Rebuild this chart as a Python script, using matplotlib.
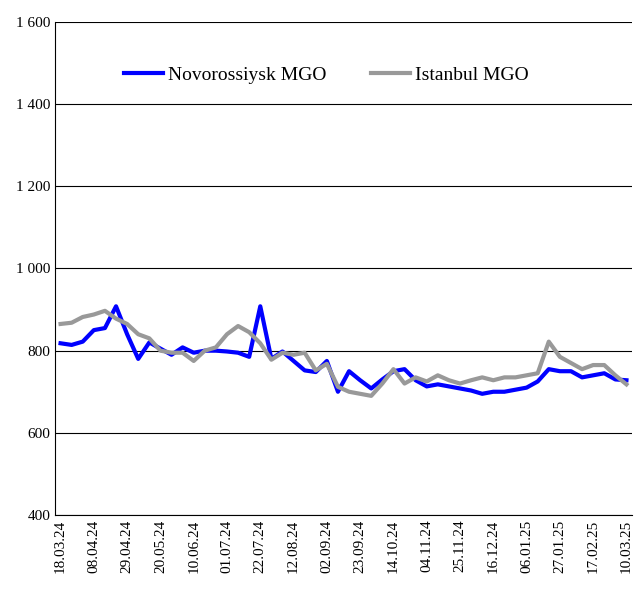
import numpy as np
import pandas as pd
import matplotlib
matplotlib.use('Agg')
import matplotlib.pyplot as plt
from matplotlib.ticker import FuncFormatter

plt.rcParams['font.family'] = ['Liberation Serif', 'DejaVu Serif']

dates = pd.date_range('2024-03-18', periods=52, freq='7D')
novo = [818,814,822,850,855,908,840,780,820,805,790,808,795,800,800,798,795,785,908,780,
        798,775,752,748,775,700,750,728,708,730,750,755,728,713,718,713,708,703,695,700,
        700,705,710,725,755,750,750,735,740,745,730,728]
ist = [865,868,882,888,897,878,865,840,830,800,795,795,775,800,808,840,860,845,818,778,
       795,790,795,752,768,712,700,695,690,720,755,720,735,725,740,728,720,728,735,728,
       735,735,740,745,822,785,770,755,765,765,740,718]

fig = plt.figure(figsize=(6.44,5.96),dpi=100)
ax = fig.add_axes([55/644,1-515/596,577/644,493/596])
x = np.arange(len(dates))
ax.plot(x,novo,color='#0000FF',lw=3,label='Novorossiysk MGO')
ax.plot(x,ist,color='#999999',lw=3,label='Istanbul MGO')
ax.set_ylim(400,1600)
ax.set_yticks(np.arange(400,1601,200))
ax.yaxis.set_major_formatter(FuncFormatter(lambda v,p: '{:,.0f}'.format(v).replace(',',' ')))
ax.grid(axis='y',color='k',lw=0.8)
ax.set_xlim(-0.5,len(x)-0.5)
ax.set_xticks(x[::3])
ax.set_xticklabels([d.strftime('%d.%m.%y') for d in dates[::3]],rotation=90,fontsize=11)
ax.tick_params(axis='y',labelsize=11,length=0)
ax.tick_params(axis='x',length=0)
for s in ['top','right']:
    ax.spines[s].set_visible(False)
ax.legend(loc='upper left',bbox_to_anchor=(0.09,0.945),ncol=2,frameon=False,fontsize=14,
          handlelength=2.0,handletextpad=0.25,columnspacing=2.3)
fig.savefig('out.png')
